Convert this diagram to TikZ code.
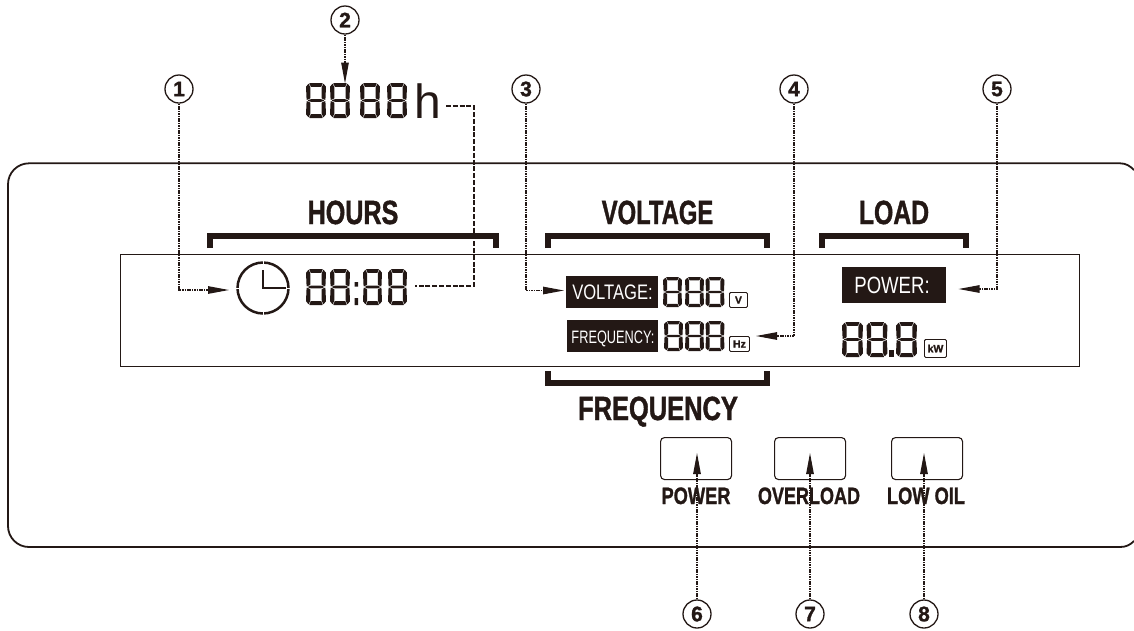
\documentclass[tikz,border=0pt]{standalone}
\usepackage{fontspec}
\usepackage{graphicx}
\usetikzlibrary{arrows.meta}
\setmainfont{Liberation Sans}[BoldFeatures={FakeBold=1.4}]
\definecolor{ink}{HTML}{231815}
\newcommand{\segd}[4]{%
  \begin{scope}[shift={(#1,#2)},xscale=#3/20,yscale=#4/36]
    \fill[ink,rounded corners=0.4]
      (3.2,0)--(16.8,0)--(15.2,3.9)--(4.8,3.9)--cycle
      (0,3.8)--(2.6,0.6)--(4.3,4.4)--(4.3,15.9)--(0.6,17.5)--cycle
      (20,3.8)--(17.4,0.6)--(15.7,4.4)--(15.7,15.9)--(19.4,17.5)--cycle
      (1.5,18)--(4.5,16.7)--(15.5,16.7)--(18.5,18)--(15.5,19.3)--(4.5,19.3)--cycle
      (0,32.2)--(2.6,35.4)--(4.3,31.6)--(4.3,20.1)--(0.6,18.5)--cycle
      (20,32.2)--(17.4,35.4)--(15.7,31.6)--(15.7,20.1)--(19.4,18.5)--cycle
      (3.2,36)--(16.8,36)--(15.2,32.1)--(4.8,32.1)--cycle;
  \end{scope}}
\newcommand{\lab}[3]{\scalebox{#1}[1]{\fontsize{#2}{#2}\selectfont #3}}
\tikzset{
  x=1pt,y=-1pt,
  num/.style={circle,draw=ink,line width=1.3pt,minimum size=28pt,inner sep=0pt,fill=white,text=ink,font=\fontsize{21}{21}\selectfont\bfseries},
  head/.style={anchor=base,inner sep=0pt,text=ink,font=\bfseries},
  small/.style={anchor=base,inner sep=0pt,text=ink,font=\bfseries},
  blackbox/.style={fill=ink,draw=none,inner sep=0pt,text=white,anchor=north west},
  unitbox/.style={draw=ink,line width=0.9pt,rounded corners=1.2pt,inner sep=0pt,text=ink,font=\fontsize{10.5}{10.5}\selectfont\bfseries,anchor=north west},
  btn/.style={draw=ink,line width=1.1pt,rounded corners=4pt,inner sep=0pt,anchor=north west,minimum width=71pt,minimum height=42pt},
  brack/.style={draw=ink,line width=5.6pt,line join=miter},
  lead/.style={draw=ink,line width=1.1pt,dash pattern=on 1.6pt off 0.8pt,-{Triangle[length=21pt,width=7.5pt,fill=ink]}},
  thickd/.style={draw=ink,line width=2.8pt,dash pattern=on 5pt off 1.8pt},
}
\begin{document}
\begin{tikzpicture}
\useasboundingbox (0,0) rectangle (1134,630);
% panel
\draw[ink,line width=1.8pt] (1134,170) .. controls (1130,166) and (1126,163.3) .. (1120,163.3)
  -- (29,163.3) .. controls (17.4,163.3) and (8,172.7) .. (8,184.3) -- (8,526)
  .. controls (8,537.6) and (17.4,547) .. (29,547) -- (1120,547)
  .. controls (1126,547) and (1130,545) .. (1134,541);
% LCD
\draw[ink,line width=0.9pt] (120,254.5) rectangle (1079,366);
% brackets
\draw[brack] (209.8,248) -- (209.8,236) -- (496.2,236) -- (496.2,248);
\draw[brack] (547.8,248) -- (547.8,236) -- (767.2,236) -- (767.2,248);
\draw[brack] (821.8,248) -- (821.8,236) -- (966.2,236) -- (966.2,248);
\draw[brack] (547.8,371) -- (547.8,383) -- (767.2,383) -- (767.2,371);
% headings
\node[head] (hHours) at (353,224) {\lab{.75}{33.5}{HOURS}};
\node[head] (hVolt) at (657.5,224) {\lab{.71}{33.5}{VOLTAGE}};
\node[head] (hLoad) at (894,224) {\lab{.74}{33.5}{LOAD}};
\node[head] (hFreq) at (658,420) {\lab{.76}{33.5}{FREQUENCY}};
% buttons
\node[btn] (b6) at (660,437) {};
\node[btn] (b7) at (774,437) {};
\node[btn] (b8) at (891,437) {};
\node[small] (lPower) at (696,504) {\lab{.77}{23.7}{POWER}};
\node[small] (lOver) at (809,504) {\lab{.76}{23.7}{OVERLOAD}};
\node[small] (lOil) at (926,504) {\lab{.77}{23.7}{LOW OIL}};
% top digits
\segd{306}{83}{20}{35}\segd{330}{83}{20}{35}\segd{360}{83}{20}{35}\segd{387}{83}{20}{35}
\node[anchor=base,inner sep=0pt,text=ink] (hh) at (428,118) {\fontsize{48}{48}\selectfont h};
% clock
\node[circle,draw=ink,line width=2.5pt,minimum size=51pt,inner sep=0pt] (clk) at (263,288) {};
\foreach \a in {0,90,180,270}{\draw[white,line width=1pt] (clk.center)++(\a:23) -- ++(\a:5);}
\draw[ink,line width=2.6pt,line join=miter] (263,270) -- (263,288) -- (286,288);
% hour digits
\segd{306}{269}{20}{36}\segd{330}{269}{20}{36}\segd{363}{269}{19}{36}\segd{388}{269}{19}{36}
\fill[ink] (354.5,282) rectangle (358,286.5) (354.5,298) rectangle (358,305);
% voltage row
\node[blackbox,minimum width=92pt,minimum height=32pt] (bVolt) at (566,276) {};
\node[anchor=base,inner sep=0pt,text=white] (tVolt) at (612.5,299.5) {\lab{.79}{21}{VOLTAGE:}};
\segd{663}{277}{19}{30}\segd{685}{277}{19}{30}\segd{705.5}{277}{19}{30}
\node[unitbox,minimum width=18pt,minimum height=15pt] (uV) at (729,292) {V};
% frequency row
\node[blackbox,minimum width=91pt,minimum height=32pt] (bFreq) at (567,320) {};
\node[anchor=base,inner sep=0pt,text=white] (tFreq) at (613,343) {\lab{.71}{18}{FREQUENCY:}};
\segd{664}{321}{19}{30}\segd{685}{321}{19}{30}\segd{705.5}{321}{19}{30}
\node[unitbox,minimum width=20pt,minimum height=15pt] (uHz) at (729,336) {Hz};
% load
\node[blackbox,minimum width=104pt,minimum height=36pt] (bPow) at (842,267) {};
\node[anchor=base,inner sep=0pt,text=white] (tPow) at (892,293.5) {\lab{.79}{23.5}{POWER:}};
\segd{842}{322}{21}{35}\segd{866.5}{322}{21}{35}\segd{896}{322}{21}{35}
\fill[ink] (889,350) rectangle (894,357);
\node[unitbox,minimum width=22pt,minimum height=18pt] (ukW) at (924,339) {kW};
% callouts
\node[num] (c1) at (179,89) {1};
\node[num] (c2) at (345,20) {2};
\node[num] (c3) at (526,89) {3};
\node[num] (c4) at (794,89) {4};
\node[num] (c5) at (997,89) {5};
\node[num] (c6) at (697,614) {6};
\node[num] (c7) at (810,614) {7};
\node[num] (c8) at (924,614) {8};
\coordinate (t1) at (229,290);
\coordinate (t2) at (345,83.5);
\coordinate (t3) at (564,290.5);
\coordinate (t4) at (756,336);
\coordinate (t5) at (958.5,289);
\coordinate (t6) at (697,453);
\coordinate (t7) at (810,453);
\coordinate (t8) at (924,453);
\draw[lead] (c1.south) |- (t1);
\draw[lead] (c2.south) -- (t2);
\draw[lead] (c3.south) |- (t3);
\draw[lead] (c4.south) |- (t4);
\draw[lead] (c5.south) |- (t5);
\draw[lead] (c6.north) -- (t6);
\draw[lead] (c7.north) -- (t7);
\draw[lead] (c8.north) -- (t8);
% dashed link
\coordinate (hs) at (446,106);
\coordinate (ts) at (415,286);
\coordinate (bend) at (474,286);
\draw[thickd] (hs) -| (bend) -- (ts);
\end{tikzpicture}
\end{document}
